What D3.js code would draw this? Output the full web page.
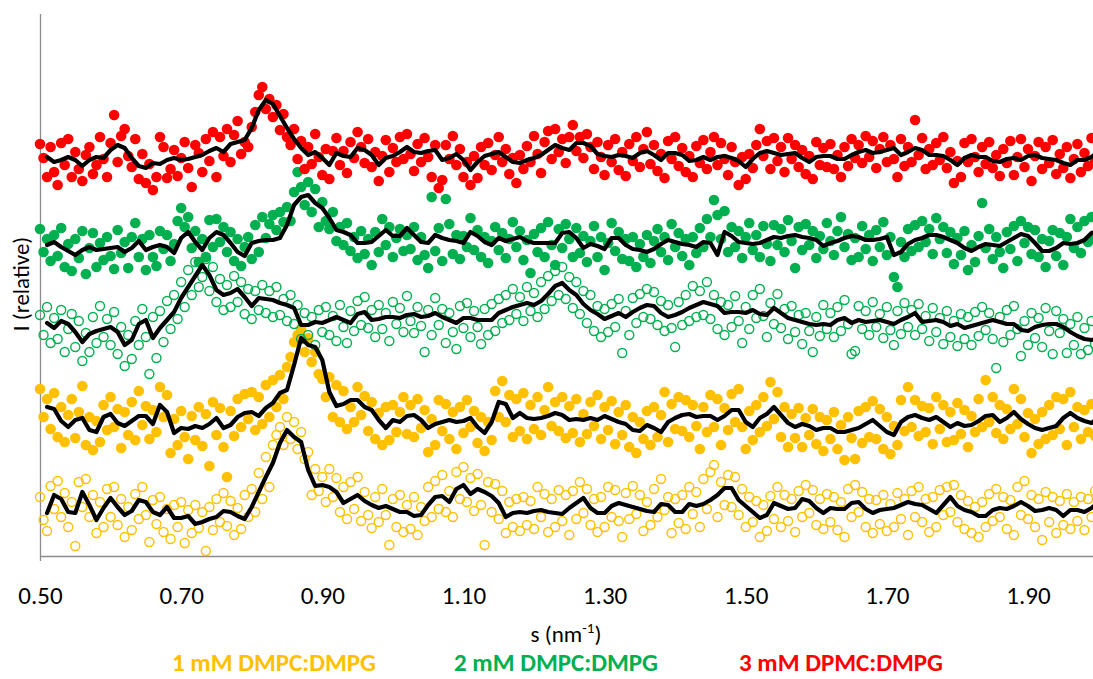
<!DOCTYPE html>
<html>
<head>
<meta charset="utf-8">
<script src="https://cdn.jsdelivr.net/npm/d3@7"></script>
<style>
  html, body { margin: 0; padding: 0; background: #fff; }
  #chart text { font-family: Calibri, Carlito, Lato, "Open Sans", sans-serif; }
</style>
</head>
<body>
<div id="chart"></div>
<script>

// scatter points are sampled every 0.005 nm-1 from s = 0.500,
// the moving average trend lines every 0.01 nm-1 from s = 0.51
var fPointStart = 0.5, fPointStep = 0.005;
var fLineStart = 0.51, fLineStep = 0.01;

var aTicks = [0.5, 0.7, 0.9, 1.1, 1.3, 1.5, 1.7, 1.9];
var aLegendNames = ["1 mM DMPC:DMPG", "2 mM DMPC:DMPG", "3 mM DPMC:DMPG"];

// I (relative), 3 mM, filled red
var aRedPts = [
  413,399,380,410,385,372,414,392,418,380,405,388,376,402,410,383,392,420,398,380,
  414,442,395,421,428,401,390,418,378,403,374,393,367,380,420,410,379,388,407,381,
  399,415,389,370,412,404,385,418,396,425,380,420,401,428,395,422,436,403,415,410,
  430,445,462,470,448,458,440,452,427,443,420,412,428,398,416,388,410,393,423,400,
  382,408,378,406,419,392,406,384,415,399,425,410,394,418,390,405,376,401,417,385,
  409,395,420,398,423,403,386,413,395,419,400,380,412,369,377,412,398,421,392,408,
  380,395,372,401,379,410,392,414,387,402,420,395,408,383,399,374,402,388,411,395,
  421,403,384,415,426,398,428,405,418,394,420,432,406,420,399,423,410,388,415,400,
  382,412,395,418,387,405,381,413,396,420,390,408,425,393,412,386,403,379,416,398,
  420,391,409,385,401,380,411,394,417,388,405,420,392,414,398,382,410,395,372,400,
  378,403,389,412,428,401,416,388,419,396,410,385,419,398,412,390,407,383,401,378,
  415,392,409,390,413,388,402,380,410,391,418,399,412,394,421,400,416,389,408,420,
  395,412,398,380,418,391,410,395,437,402,419,388,408,392,414,397,420,389,405,374,
  396,380,414,395,418,400,385,410,393,415,389,402,381,408,394,416,382,400,418,390,
  408,376,401,415,388,410,394,417,383,403,389,410,379,398,413,385,404,391,419,396,
  412
];
var aRedLine = [
  400,395,397,400,397,391,397,400,399,407,
  412,409,399,391,389,394,393,397,399,397,
  398,400,402,406,409,405,413,415,417,429,
  447,457,453,441,429,418,409,402,405,399,
  392,404,401,400,409,407,402,392,399,401,
  405,410,405,404,406,407,397,399,403,397,
  387,395,401,403,405,400,395,394,397,399,
  402,407,412,409,407,414,414,411,403,401,
  400,402,401,399,404,406,402,397,404,404,
  402,396,397,400,397,400,401,399,396,390,
  398,404,406,404,402,403,404,399,395,400,
  401,401,398,398,402,405,407,404,405,407,
  409,402,405,409,407,402,402,401,397,392,
  399,402,400,400,396,395,398,399,397,401,
  402,399,398,397,394,392,397,397,400,405
];

// 2 mM, filled green
var aGreenPts = [
  328,305,318,296,322,301,329,290,313,286,318,299,326,283,309,324,290,314,297,320,
  301,288,327,304,315,289,320,334,300,318,287,322,300,291,326,308,322,296,313,336,
  349,330,340,309,326,295,318,300,337,310,338,315,330,305,325,296,318,291,310,320,
  298,332,305,340,319,333,342,327,345,335,350,336,365,385,370,352,375,345,368,330,
  355,336,328,345,316,330,312,334,306,320,299,326,303,318,292,325,305,338,312,330,
  300,319,328,306,322,308,330,297,320,302,289,360,306,329,296,358,333,303,322,298,
  321,310,339,307,327,300,320,294,316,330,307,324,299,318,335,310,326,297,317,284,
  323,305,329,300,335,312,292,328,309,333,318,300,329,304,321,295,316,331,300,320,
  287,314,334,306,325,298,318,296,320,290,313,300,322,294,316,328,305,320,297,333,
  310,324,301,318,292,320,304,329,310,338,320,357,342,318,346,305,330,310,326,299,
  320,334,307,322,300,331,313,296,332,312,328,305,337,316,289,330,307,333,312,326,
  299,321,308,334,316,302,326,340,310,323,297,319,300,331,308,322,296,327,310,335,
  302,320,280,270,315,300,328,306,332,310,336,315,328,303,339,318,330,304,325,293,
  319,302,326,287,312,295,321,354,309,328,298,320,305,289,325,308,331,296,336,314,
  330,303,327,300,318,290,316,327,301,324,292,320,338,309,330,304,336,315,340,318,
  297
];
var aGreenLine = [
  312,315,310,306,302,307,310,307,308,309,
  310,305,309,316,307,310,312,310,304,319,
  325,315,307,319,325,322,314,305,301,314,
  316,317,317,319,332,352,360,362,354,349,
  339,327,325,322,314,314,315,321,327,321,
  321,329,322,315,314,322,319,317,316,314,
  325,321,315,312,319,316,318,320,316,314,
  314,314,314,324,325,319,309,313,311,308,
  319,319,312,308,307,305,308,313,317,315,
  313,312,310,315,314,302,325,321,315,314,
  313,314,317,320,319,321,322,320,319,317,
  311,314,316,319,321,320,317,317,318,320,
  302,305,313,317,319,322,322,320,317,314,
  309,306,310,313,312,311,315,319,323,321,
  314,306,306,309,314,313,314,317,324,326
];

// 2 mM, open green
var aGreenOpenPts = [
  242,222,250,214,239,218,247,205,228,243,210,236,196,224,205,240,214,251,220,238,
  212,245,203,230,191,222,198,236,212,248,220,183,240,199,246,215,256,228,262,238,
  275,250,287,262,295,270,280,298,266,290,255,278,247,272,250,281,255,275,243,268,
  238,266,247,272,244,266,240,270,242,258,236,262,233,252,218,244,222,240,212,247,
  225,250,222,241,216,252,230,214,246,226,256,232,260,229,247,220,252,228,244,216,
  255,233,249,225,261,236,224,250,231,205,247,222,259,232,248,214,244,225,208,251,
  229,254,220,246,230,213,248,222,253,226,258,234,262,237,268,243,260,236,270,246,
  264,240,275,248,281,256,286,262,290,258,280,249,275,243,266,234,262,226,251,220,
  248,225,253,230,258,204,246,222,259,234,263,240,268,238,265,232,256,226,252,229,
  210,255,232,262,236,271,240,266,242,275,238,262,228,255,222,252,230,261,236,214,
  250,228,262,239,268,241,220,254,233,263,229,248,218,251,225,242,213,244,226,205,
  240,221,252,228,244,220,250,226,257,233,203,206,251,228,246,222,255,230,243,219,
  250,227,212,246,223,254,230,247,222,253,228,241,216,249,225,239,213,246,220,236,
  211,243,218,240,212,245,221,250,227,244,218,189,240,215,247,222,251,228,201,236,
  212,244,219,239,210,249,226,203,246,224,238,204,233,212,240,203,229,207,236,213,
  232
];
var aGreenOpenLine = [
  234,229,236,233,225,215,223,226,228,230,
  225,212,217,233,237,219,229,237,245,259,
  270,281,292,282,267,262,264,268,260,251,
  259,258,257,254,252,249,232,232,235,234,
  237,240,237,234,243,245,237,238,240,240,
  239,242,243,240,241,244,240,237,234,239,
  239,237,237,237,244,247,250,252,254,252,
  256,263,271,274,267,262,253,247,243,238,
  241,244,240,245,249,252,251,244,240,242,
  245,249,252,255,253,251,244,245,245,244,
  247,243,242,249,244,239,237,235,233,232,
  233,232,237,239,234,237,235,236,237,235,
  233,237,240,244,235,236,237,235,231,233,
  229,231,233,235,237,235,233,233,227,226,
  230,232,233,233,230,225,221,218,217,219
];

// 1 mM, filled orange
var aOrangePts = [
  168,140,158,128,164,120,150,115,142,158,119,145,171,112,140,107,136,115,152,127,
  160,130,148,109,145,122,155,117,166,132,151,118,147,125,170,140,162,104,138,112,
  146,120,98,141,117,150,111,143,91,155,122,149,110,80,146,121,158,130,163,138,
  165,127,160,133,172,140,177,150,182,158,190,200,215,222,228,205,219,195,205,183,
  178,160,180,140,172,135,166,128,150,135,170,142,161,126,155,118,144,112,150,117,
  152,125,145,160,123,152,120,158,129,147,105,138,112,157,126,153,118,145,108,150,
  124,157,130,146,114,140,106,135,117,166,140,176,135,162,120,158,126,164,118,152,
  128,160,122,147,170,131,155,126,160,119,151,124,158,115,143,123,155,131,162,118,
  150,127,156,113,145,122,152,110,140,104,135,118,146,112,150,120,142,165,115,153,
  128,160,126,157,120,152,131,108,150,125,162,130,158,112,149,127,163,135,168,130,
  108,146,117,152,125,160,131,175,138,165,120,150,110,143,119,149,110,139,122,148,
  113,140,106,137,118,145,108,132,97,140,119,98,146,114,150,120,156,118,148,108,
  140,103,131,112,157,126,170,130,157,121,151,125,149,113,160,128,152,115,145,117,
  154,123,147,110,141,125,158,130,177,135,160,124,152,118,148,128,168,133,158,120,
  144,104,138,113,145,118,152,122,160,128,158,112,165,130,150,118,147,125,153,121,
  146
];
var aOrangeLine = [
  150,148,136,130,137,139,127,125,140,143,
  134,131,136,141,141,133,152,145,124,129,
  128,131,129,133,139,129,132,140,144,145,
  141,149,154,164,167,192,219,212,210,197,
  165,151,153,157,157,150,147,137,129,137,
  135,141,142,137,129,133,135,137,135,136,
  139,130,124,135,155,153,139,144,139,138,
  139,141,144,142,137,138,137,139,137,141,
  138,135,133,127,126,132,129,125,135,139,
  142,143,140,141,141,137,141,147,147,135,
  130,139,143,150,142,134,130,133,131,127,
  129,129,125,125,127,129,133,137,131,125,
  122,135,140,142,139,137,140,135,130,134,
  131,132,136,141,142,135,139,145,138,133,
  129,127,129,131,139,144,139,136,134,139
];

// 1 mM, open orange
var aOrangeOpenPts = [
  60,37,26,71,48,76,40,64,30,55,11,75,50,78,40,62,24,55,30,68,
  40,70,32,58,20,50,27,63,38,70,42,15,57,33,60,25,48,18,52,30,
  55,14,47,24,52,29,45,6,50,27,58,35,64,31,56,22,49,28,62,40,
  68,45,84,58,100,70,112,122,130,112,140,118,135,108,125,98,105,62,88,66,
  80,55,88,60,79,45,70,38,75,48,80,36,65,42,29,60,35,68,42,12,
  58,30,62,25,52,28,60,22,50,36,70,40,76,48,82,45,66,40,85,58,
  90,55,79,46,83,52,12,75,45,73,38,66,24,55,30,58,26,60,32,56,
  28,70,40,63,25,58,30,67,36,62,22,66,38,75,44,68,32,58,25,60,
  30,70,40,67,36,20,64,38,71,43,62,26,55,32,68,40,78,47,60,24,
  58,34,62,28,70,43,65,30,78,48,85,92,40,75,52,82,50,80,42,68,
  30,60,35,56,20,52,26,61,38,70,30,62,36,58,25,66,40,72,44,67,
  32,58,28,63,35,60,27,55,20,68,40,72,45,65,30,58,24,57,33,62,
  26,53,30,64,38,58,22,66,40,70,35,58,25,60,30,67,42,70,45,72,
  35,62,28,56,24,50,20,55,30,63,36,68,40,60,28,57,22,70,42,76,
  38,62,30,58,17,65,35,60,24,56,32,63,28,55,36,60,27,58,40,66,
  45
];
var aOrangeOpenLine = [
  44,62,58,45,44,65,52,37,49,59,
  50,42,46,57,55,45,42,50,39,39,
  41,33,35,38,40,46,45,41,38,50,
  65,80,94,114,127,120,115,87,71,72,
  70,65,54,58,62,56,52,49,51,48,
  45,45,41,42,52,60,61,55,68,72,
  63,68,65,61,54,40,44,45,44,46,
  47,45,44,43,49,54,59,49,44,44,
  51,54,52,50,48,46,45,53,52,45,
  45,53,51,53,57,62,69,69,57,51,
  45,39,42,54,51,48,49,58,56,49,
  44,49,48,48,54,55,48,44,47,48,
  49,52,55,53,52,48,44,52,60,51,
  47,45,41,41,47,49,48,51,55,51,
  46,47,49,47,41,47,47,45,49,55
];

var sOrange = "#FFC000", sGreen = "#00B050", sRed = "#FF0000";

// drawing order: bottom traces first, red on top
var aSeries = [
  { pts: aOrangeOpenPts, line: aOrangeOpenLine, color: sOrange, open: true },
  { pts: aOrangePts,     line: aOrangeLine,     color: sOrange, open: false },
  { pts: aGreenOpenPts,  line: aGreenOpenLine,  color: sGreen,  open: true },
  { pts: aGreenPts,      line: aGreenLine,      color: sGreen,  open: false },
  { pts: aRedPts,        line: aRedLine,        color: sRed,    open: false }
];
var aLegendColors = [sOrange, sGreen, sRed];

var iWidth = 1093, iHeight = 679;

var x = d3.scaleLinear().domain([0.5, 1.9]).range([40, 1028]);
var y = d3.scaleLinear().domain([0, 543]).range([557, 14]);

var dSVG = d3.select("#chart")
    .append("svg")
    .attr("width", iWidth)
    .attr("height", iHeight);

// x axis: labels only, domain line drawn by the axis
var dXAxis = dSVG.append("g")
    .attr("transform", "translate(0," + 556.5 + ")")
    .call(d3.axisBottom(x)
        .tickValues(aTicks)
        .tickFormat(d3.format(".2f"))
        .tickSize(0)
        .tickSizeOuter(0)
        .tickPadding(30));

dXAxis.select(".domain")
    .attr("d", "M40,0H" + iWidth)
    .attr("stroke", "#8c8c8c")
    .attr("stroke-width", 1.3);

dXAxis.selectAll("text")
    .attr("fill", "#000")
    .style("font-size", "25px");

// y axis has no ticks, only the line (it pokes a little below the x axis)
dSVG.append("line")
    .attr("x1", 40.5).attr("x2", 40.5)
    .attr("y1", y(543)).attr("y2", 561)
    .attr("stroke", "#8c8c8c")
    .attr("stroke-width", 1.3);

var dPlot = dSVG.append("g");

aSeries.forEach(function(oS) {
    dPlot.append("g")
        .selectAll("circle")
        .data(oS.pts)
        .enter()
        .append("circle")
        .attr("cx", function(d, i) { return x(fPointStart + i * fPointStep); })
        .attr("cy", function(d) { return y(d); })
        .attr("r", oS.open ? 4.5 : 5.3)
        .attr("fill", oS.open ? "none" : oS.color)
        .attr("stroke", oS.open ? oS.color : "none")
        .attr("stroke-width", 1.4);
});

var fLine = d3.line()
    .x(function(d, i) { return x(fLineStart + i * fLineStep); })
    .y(function(d) { return y(d); });

aSeries.forEach(function(oS) {
    dPlot.append("path")
        .datum(oS.line)
        .attr("d", fLine)
        .attr("fill", "none")
        .attr("stroke", "#000")
        .attr("stroke-width", 4.2)
        .attr("stroke-linejoin", "round")
        .attr("stroke-linecap", "round");
});

// axis titles
var dXTitle = dSVG.append("text")
    .attr("x", 566)
    .attr("y", 642)
    .attr("text-anchor", "middle")
    .style("font-size", "23px")
    .text("s (nm");
dXTitle.append("tspan")
    .attr("dy", -9)
    .style("font-size", "15px")
    .text("-1");
dXTitle.append("tspan")
    .attr("dy", 9)
    .text(")");

dSVG.append("text")
    .attr("transform", "translate(29,284) rotate(-90)")
    .attr("text-anchor", "middle")
    .style("font-size", "23px")
    .text("I (relative)");

// legend
var aLegendX = [274, 556, 841];
dSVG.append("g")
    .selectAll("text")
    .data(aLegendNames)
    .enter()
    .append("text")
    .attr("x", function(d, i) { return aLegendX[i]; })
    .attr("y", 671)
    .attr("text-anchor", "middle")
    .attr("fill", function(d, i) { return aLegendColors[i]; })
    .style("font-size", "25px")
    .style("font-weight", "bold")
    .text(function(d) { return d; });

</script>
</body>
</html>
